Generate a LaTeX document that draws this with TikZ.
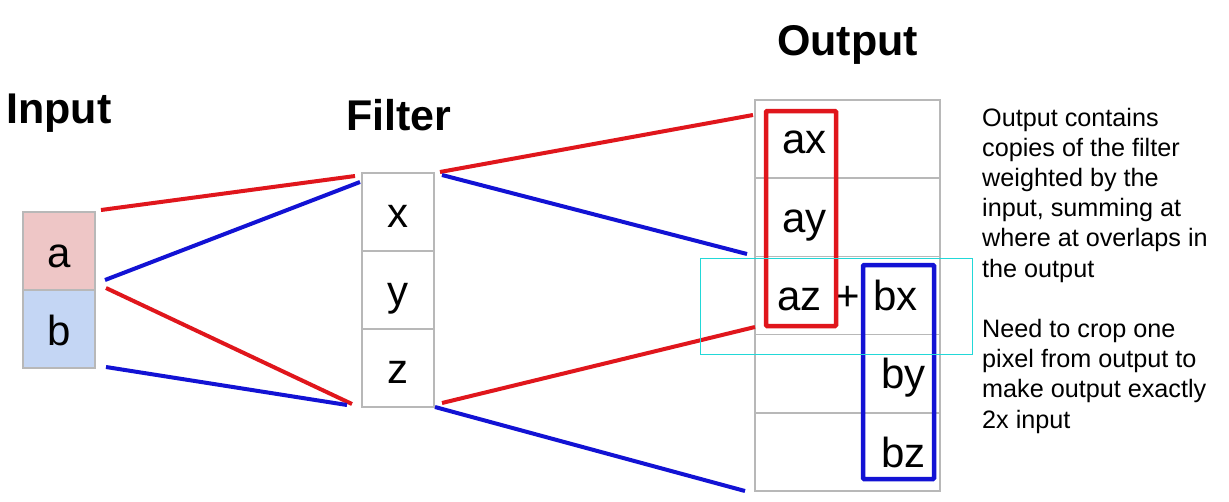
\documentclass[tikz,border=0pt]{standalone}
\usepackage{fontspec}
\setmainfont{Liberation Sans}
\definecolor{cellgray}{HTML}{B8B8B8}
\definecolor{pinkfill}{HTML}{EEC6C6}
\definecolor{bluefill}{HTML}{C4D6F4}
\definecolor{lred}{HTML}{E0161C}
\definecolor{lblue}{HTML}{1212D4}
\definecolor{selcyan}{HTML}{22D8D8}
\begin{document}
\begin{tikzpicture}[x=1pt,y=-1pt,
  cell/.style={draw=cellgray,line width=1.5pt,rectangle,inner sep=0pt,minimum width=72pt,minimum height=78pt},
  ocell/.style={draw=cellgray,line width=1.5pt,rectangle,inner sep=0pt,minimum width=185pt,minimum height=78.2pt},
  lab/.style={inner sep=0pt,anchor=base,font=\fontsize{42}{46}\selectfont},
  title/.style={inner sep=0pt,anchor=base,font=\fontsize{43}{47}\selectfont\bfseries},
  conn/.style={line width=4pt},
  hl/.style={line width=4.5pt,rounded corners=1pt}]
\useasboundingbox (0,0) rectangle (1229,501);
\fill[white] (0,0) rectangle (1229,501);
% titles
\node[title] (tin) at (59,123) {Input};
\node[title] (tfi) at (399,130) {Filter};
\node[title] (tout) at (847.5,55) {Output};
% input cells
\node[cell,fill=pinkfill] (a) at (59,251) {};
\node[cell,fill=bluefill] (b) at (59,329) {};
\node[lab] (la) at (59,267) {a};
\node[lab] (lb) at (59,345) {b};
% filter cells
\node[cell] (fx) at (398,212) {};
\node[cell] (fy) at (398,290) {};
\node[cell] (fz) at (398,368) {};
\node[lab] (lx) at (398,227) {x};
\node[lab] (ly) at (398,305) {y};
\node[lab] (lz) at (398,383) {z};
% output cells
\node[ocell] (o1) at (847.5,139.1) {};
\node[ocell] (o2) at (847.5,217.3) {};
\node[ocell] (o3) at (847.5,295.5) {};
\node[ocell] (o4) at (847.5,373.7) {};
\node[ocell] (o5) at (847.5,451.9) {};
\node[lab] (lax) at (804.5,153) {ax};
\node[lab] (lay) at (804.5,232) {ay};
\node[lab] (laz) at (799.5,310) {az};
\node[lab] (lplus) at (847.5,310) {+};
\node[lab] (lbx) at (895.5,310) {bx};
\node[lab] (lby) at (903.5,388) {by};
\node[lab] (lbz) at (903.5,467) {bz};
% highlight boxes
\node[draw=lred,hl,minimum width=70pt,minimum height=215pt,inner sep=0pt] (redbox) at (801,218.5) {};
\node[draw=lblue,hl,minimum width=71pt,minimum height=214pt,inner sep=0pt] (bluebox) at (898.5,372) {};
% connector end points
\coordinate (ra1) at (101,210);
\coordinate (ra2) at (355,176);
\coordinate (ba1) at (105,280);
\coordinate (ba2) at (360,182);
\coordinate (rb1) at (106,288);
\coordinate (rb2) at (352,404);
\coordinate (bb1) at (106,367);
\coordinate (bb2) at (347,405);
\coordinate (rf1) at (440,172);
\coordinate (rf2) at (753,115);
\coordinate (bf1) at (442,175);
\coordinate (bf2) at (747,254);
\coordinate (rg1) at (442,403);
\coordinate (rg2) at (755,327);
\coordinate (bg1) at (435,407);
\coordinate (bg2) at (745,491);
\draw[conn,lred] (ra1) -- (ra2);
\draw[conn,lblue] (ba1) -- (ba2);
\draw[conn,lred] (rb1) -- (rb2);
\draw[conn,lblue] (bb1) -- (bb2);
\draw[conn,lred] (rf1) -- (rf2);
\draw[conn,lblue] (bf1) -- (bf2);
\draw[conn,lred] (rg1) -- (rg2);
\draw[conn,lblue] (bg1) -- (bg2);
% selection rectangle
\draw[selcyan,line width=1pt] (700.5,258.5) rectangle (972.5,354);
% note
\node[inner sep=0pt,anchor=base west,align=left,font=\fontsize{25.2}{30.2}\selectfont] (note) at (982,428)
{Output contains\\copies of the filter\\weighted by the\\input, summing at\\where at overlaps in\\the output\\[30.2pt]Need to crop one\\pixel from output to\\make output exactly\\2x input};
\end{tikzpicture}
\end{document}
